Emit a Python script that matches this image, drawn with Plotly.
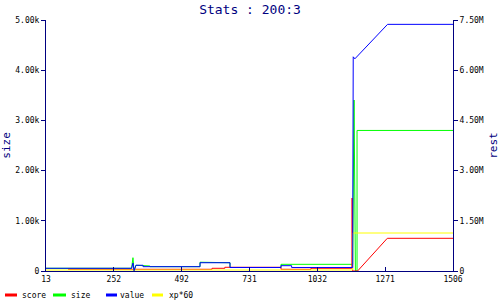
import plotly.graph_objects as go

# ---- data (x in axis units) ----
x_tick_labels = ["13", "252", "492", "731", "1032", "1271", "1506"]
size_ticks = ["0", "1.00k", "2.00k", "3.00k", "4.00k", "5.00k"]
rest_ticks = ["0", "1.50M", "3.00M", "4.50M", "6.00M", "7.50M"]

size_x = [13, 327, 332, 336, 343, 369, 369, 394, 394, 578, 578, 622, 622, 688, 688, 875, 875, 1135, 1138, 1143, 1148, 1154, 1154, 1506]
size_y = [54, 54, 265, 6, 114, 114, 100, 100, 86, 86, 175, 175, 165, 165, 70, 70, 133, 133, 133, 3406, 0, 0, 2800, 2800]

score_x = [94, 622, 622, 669, 669, 875, 875, 985, 985, 1135, 1136, 1138, 1156, 1265, 1506]
score_y = [51000, 51000, 81000, 81000, 111000, 111000, 51000, 51000, 81000, 81000, 2181000, 0, 0, 977000, 977000]

value_x = [13, 327, 332, 336, 343, 369, 369, 578, 578, 688, 688, 875, 875, 914, 914, 1138, 1140, 1146, 1266, 1506]
value_y = [81000, 81000, 238500, 9000, 171000, 171000, 129000, 129000, 247500, 247500, 105000, 105000, 159000, 159000, 105000, 105000, 6400000, 6340000, 7370000, 7370000]

xp_x = [13, 1137, 1138, 1506]
xp_y = [30000, 30000, 1135500, 1135500]

legend_names = ["score", "size", "value", "xp*60"]
legend_colors = ["#ff0000", "#00ff00", "#0000ff", "#ffff00"]

NAVY = "#000080"
MONO = "DejaVu Sans Mono"
W, H = 500, 300
ML, MR, MT, MB = 46, 47, 20, 29
PW, PH = W - ML - MR, H - MT - MB

fig = go.Figure()
fig.add_trace(go.Scatter(x=size_x, y=size_y, name="size", mode="lines",
                         line=dict(color=legend_colors[1], width=1), yaxis="y"))
fig.add_trace(go.Scatter(x=score_x, y=score_y, name="score", mode="lines",
                         line=dict(color=legend_colors[0], width=1), yaxis="y2"))
fig.add_trace(go.Scatter(x=xp_x, y=xp_y, name="xp*60", mode="lines",
                         line=dict(color=legend_colors[3], width=1), yaxis="y2"))
fig.add_trace(go.Scatter(x=value_x, y=value_y, name="value", mode="lines",
                         line=dict(color=legend_colors[2], width=1), yaxis="y2"))

xmin, xmax = 13, 1506
tickvals_x = [xmin + i * (xmax - xmin) / 6 for i in range(7)]

# legend drawn below plot: key line + label (pixel layout of the key row)
key_px = [(5, 17, 20), (53, 66, 69), (106, 117, 118), (152, 163, 167)]
legend_y_px = 295
ly = (H - MB - legend_y_px) / PH
shapes, annotations = [], []
for name, color, (x0, x1, tx) in zip(legend_names, legend_colors, key_px):
    shapes.append(dict(type="line", xref="paper", yref="paper",
                       x0=(x0 - ML) / PW, x1=(x1 - ML) / PW, y0=ly, y1=ly,
                       line=dict(color=color, width=3)))
    annotations.append(dict(text=name, xref="paper", yref="paper",
                            x=(tx - ML) / PW, y=ly, xanchor="left", yanchor="middle",
                            showarrow=False, font=dict(family=MONO, size=8, color="black")))

fig.update_layout(
    width=W, height=H,
    margin=dict(l=ML, r=MR, t=MT, b=MB, autoexpand=False),
    paper_bgcolor="white", plot_bgcolor="white",
    title=dict(text="Stats : 200:3", x=0.5, xanchor="center", y=0.97, yanchor="middle",
               font=dict(family=MONO, size=13, color=NAVY)),
    font=dict(family=MONO, size=8, color="black"),
    showlegend=False,
    shapes=shapes, annotations=annotations,
    xaxis=dict(range=[xmin, xmax], tickvals=tickvals_x, ticktext=x_tick_labels,
               showgrid=False, zeroline=False, showline=True, linecolor=NAVY, linewidth=1,
               ticks="inside", ticklen=4, tickcolor=NAVY,
               tickfont=dict(family=MONO, size=8, color="black")),
    yaxis=dict(range=[0, 5000], tickvals=[0, 1000, 2000, 3000, 4000, 5000], ticktext=size_ticks,
               showgrid=False, zeroline=False, showline=True, linecolor=NAVY, linewidth=1,
               ticks="outside", ticklen=4, tickcolor=NAVY,
               tickfont=dict(family=MONO, size=8, color="black"),
               title=dict(text="size", font=dict(family=MONO, size=11, color=NAVY), standoff=6)),
    yaxis2=dict(range=[0, 7500000], tickvals=[0, 1.5e6, 3e6, 4.5e6, 6e6, 7.5e6], ticktext=rest_ticks,
                overlaying="y", side="right",
                showgrid=False, zeroline=False, showline=True, linecolor=NAVY, linewidth=1,
                ticks="outside", ticklen=4, tickcolor=NAVY,
                tickfont=dict(family=MONO, size=8, color="black"),
                title=dict(text="rest", font=dict(family=MONO, size=11, color=NAVY), standoff=6)),
)

fig.write_html("out.html")
